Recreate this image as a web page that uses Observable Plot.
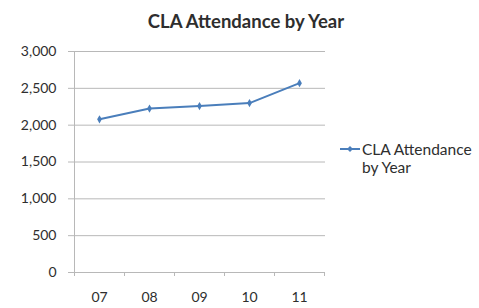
<!DOCTYPE html>
<html>
<head>
<meta charset="utf-8">
<script src="https://cdn.jsdelivr.net/npm/d3@7"></script>
<script src="https://cdn.jsdelivr.net/npm/@observablehq/plot@0.6"></script>
<style>
  html, body { margin: 0; padding: 0; background: #fff; }
  #wrap { position: relative; width: 479px; height: 308px; font-family: Lato, "Open Sans", sans-serif; color: #2e2e2e; }
  #title { position: absolute; left: 0; width: 492px; top: 12px; text-align: center; font-weight: bold; font-size: 18.5px; line-height: 18.5px; white-space: nowrap; }
  #legend { position: absolute; left: 340px; top: 140px; font-size: 15.5px; line-height: 18px; display: flex; white-space: nowrap; }
  #legend svg { margin-top: 2px; margin-right: 2px; }
</style>
</head>
<body>
<div id="wrap">
  <div id="title">CLA Attendance by Year</div>
  <div id="legend"><svg width="20" height="14"><line x1="0" y1="7" x2="20" y2="7" stroke="#4a7ebb" stroke-width="2"/><path d="M10,4 L13,7 L10,10 L7,7 Z" fill="#4a7ebb"/></svg><div>CLA Attendance<br>by Year</div></div>
</div>
<script>
const years = ["07", "08", "09", "10", "11"];
const attendance = [2080, 2225, 2260, 2300, 2570];
const yTicks = [0, 500, 1000, 1500, 2000, 2500, 3000];

const data = years.map((y, i) => ({year: y, value: attendance[i]}));

const chart = Plot.plot({
  width: 479,
  height: 308,
  marginLeft: 73,
  marginRight: 154,
  marginTop: 51,
  marginBottom: 36,
  style: {fontFamily: "Lato, 'Open Sans', sans-serif", fontSize: "14px", color: "#2e2e2e", background: "transparent"},
  x: {type: "band", domain: years, padding: 0, label: null},
  y: {domain: [0, 3000], label: null, ticks: yTicks, tickFormat: d3.format(",")},
  marks: [
    Plot.gridY(yTicks.filter(d => d > 0), {stroke: "#b8b8b8", strokeOpacity: 1, strokeWidth: 1}),
    Plot.axisY({ticks: yTicks, tickFormat: d3.format(","), tickSize: 5, tickPadding: 12, stroke: "#b8b8b8", fontSize: 14, fill: "#2e2e2e", label: null}),
    Plot.axisX({tickSize: 0, tickPadding: 20, fontSize: 14, fill: "#2e2e2e", label: null}),
    Plot.ruleY([0], {stroke: "#b8b8b8", insetLeft: -5}),
    Plot.ruleX([years[0]], {x: d => d, dx: -25, stroke: "#b8b8b8", insetBottom: -4}),
    Plot.ruleX(years, {x: d => d, dx: 25, stroke: "#b8b8b8", insetTop: 221, insetBottom: -4}),
    Plot.line(data, {x: "year", y: "value", stroke: "#4a7ebb", strokeWidth: 2}),
    Plot.dot(data, {x: "year", y: "value", symbol: "diamond", r: 2.5, fill: "#4a7ebb", stroke: "none"})
  ]
});
document.getElementById("wrap").prepend(chart);
chart.style.position = "absolute";
chart.style.left = "0";
chart.style.top = "0";
</script>
</body>
</html>
